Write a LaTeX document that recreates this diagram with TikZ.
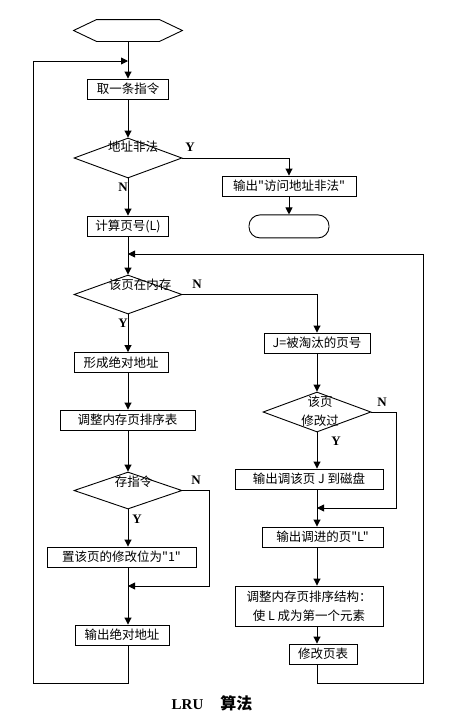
\documentclass[tikz,border=0pt]{standalone}
\usepackage{fontspec}
\setmainfont{Liberation Serif}
\newfontfamily\cjk{Noto Sans CJK SC}
\usetikzlibrary{positioning}
\usetikzlibrary{arrows.meta}
\usetikzlibrary{shapes.geometric}

\tikzset{
	box/.style = {draw, rectangle, minimum height=20pt, inner sep=0pt, font=\cjk\fontsize{12.5}{14}\selectfont},
	cond/.style = {draw, diamond, minimum width=108pt, minimum height=40pt, inner sep=0pt},
	ctext/.style = {font=\cjk\fontsize{12.5}{19}\selectfont, align=center, inner sep=0pt},
	yn/.style = {font=\fontsize{13}{14}\selectfont\bfseries, inner sep=0pt},
	arr/.style = {-{Triangle[width=7pt,length=7pt]}}
}

\begin{document}
\begin{tikzpicture}[x=1pt, y=-1pt, line width=0.9pt]
	\useasboundingbox (0,0) rectangle (454,721);

	% left column
	\node[minimum width=108pt, minimum height=21pt] (start) at (128,30.5) {};
	\draw (start.west) -- ([xshift=23pt]start.north west) -- ([xshift=-23pt]start.north east) -- (start.east) -- ([xshift=-23pt]start.south east) -- ([xshift=23pt]start.south west) -- cycle;
	\node[box, minimum width=81pt] (fetch) at (128,89) {取一条指令};
	\node[cond, label={[ctext, xshift=5pt, yshift=11pt]center:地址非法}] (chk) at (128,158) {};
	\node[box, minimum width=81pt] (page) at (128,226) {计算页号(L)};
	\node[cond, minimum height=39pt, label={[ctext, xshift=12pt, yshift=9.5pt]center:该页在内存}] (inmem) at (128,294.5) {};
	\node[box, minimum width=94pt] (absa) at (121,362.5) {形成绝对地址};
	\node[box, minimum width=135pt] (adj) at (127.5,420) {调整内存页排序表};
	\node[cond, minimum height=37pt, label={[ctext, xshift=5.5pt, yshift=9pt]center:存指令}] (store) at (128,490.5) {};
	\node[box, minimum width=149pt] (setbit) at (121.5,557) {置该页的修改位为"1"};
	\node[box, minimum width=94pt] (outabs) at (122,635) {输出绝对地址};

	% right column
	\node[box, minimum width=134pt] (err) at (289,186) {输出"访问地址非法"};
	\node[draw, rounded corners=11pt, minimum width=80pt, minimum height=23pt, below=18pt of err] (stop) {};
	\node[box, minimum width=106pt] (victim) at (317,343) {J=被淘汰的页号};
	\node[cond, label={[ctext, xshift=3pt, yshift=1pt]center:该页\\修改过}] (modq) at (317,412) {};
	\node[box, minimum width=148pt] (outj) at (309,479) {输出调该页 J 到磁盘};
	\node[box, minimum width=121pt] (inl) at (322.5,537) {输出调进的页"L"};
	\node[box, minimum width=148pt, minimum height=40pt, align=center, font=\cjk\fontsize{12.5}{19}\selectfont] (reord) at (309,606) {调整内存页排序结构：\\使 L 成为第一个元素};
	\node[box, minimum width=68pt] (modtab) at (323,654) {修改页表};

	% Y / N
	\node[yn] (y1) at (190,147) {Y};
	\node[yn] (n1) at (123,187) {N};
	\node[yn] (n2) at (197,284) {N};
	\node[yn] (y2) at (123,323) {Y};
	\node[yn] (n3l) at (196,480) {N};
	\node[yn] (y3) at (137,519) {Y};
	\node[yn] (n4l) at (382,402) {N};
	\node[yn] (y4) at (336,441) {Y};

	\node[font=\fontsize{15}{17}\selectfont\bfseries, inner sep=0pt] (title) at (212,703) {LRU\hspace{17pt}{\cjk\fontsize{16}{18}\selectfont 算法}};

	% bends
	\coordinate (lt) at (33,61);
	\coordinate (lb) at (33,683);
	\coordinate (tj) at (128,61);
	\coordinate (j2) at (128,254);
	\coordinate (rt) at (423,254);
	\coordinate (rb) at (423,683);
	\coordinate (n3) at (209,586);
	\coordinate (j3) at (128,586);
	\coordinate (n4) at (396,508);
	\coordinate (j4) at (317,508);

	\draw[arr] (start.south) -- (fetch.north);
	\draw[arr] (fetch.south) -- (chk.north);
	\draw[arr] (chk.east) -| (err.north);
	\draw[arr] (err.south) -- (stop.north);
	\draw[arr] (chk.south) -- (page.north);
	\draw[arr] (page.south) -- (inmem.north);
	\draw[arr] (inmem.east) -| (victim.north);
	\draw[arr] (inmem.south) -- (absa.north -| tj);
	\draw[arr] (absa.south -| tj) -- (adj.north -| tj);
	\draw[arr] (adj.south -| tj) -- (store.north);
	\draw[arr] (store.south) -- (setbit.north -| tj);
	\draw[arr] (store.east) -| (n3) -- (j3);
	\draw (setbit.south -| tj) -- (j3);
	\draw[arr] (j3) -- (outabs.north -| tj);
	\draw[arr] (outabs.south -| tj) |- (lb) -- (lt) -- (tj);

	\draw[arr] (victim.south) -- (modq.north);
	\draw[arr] (modq.south) -- (outj.north -| j4);
	\draw[arr] (modq.east) -| (n4) -- (j4);
	\draw (outj.south -| j4) -- (j4);
	\draw[arr] (j4) -- (inl.north -| j4);
	\draw[arr] (inl.south -| j4) -- (reord.north -| j4);
	\draw[arr] (reord.south -| j4) -- (modtab.north -| j4);
	\draw[arr] (modtab.south -| j4) |- (rb) -- (rt) -- (j2);
\end{tikzpicture}
\end{document}
